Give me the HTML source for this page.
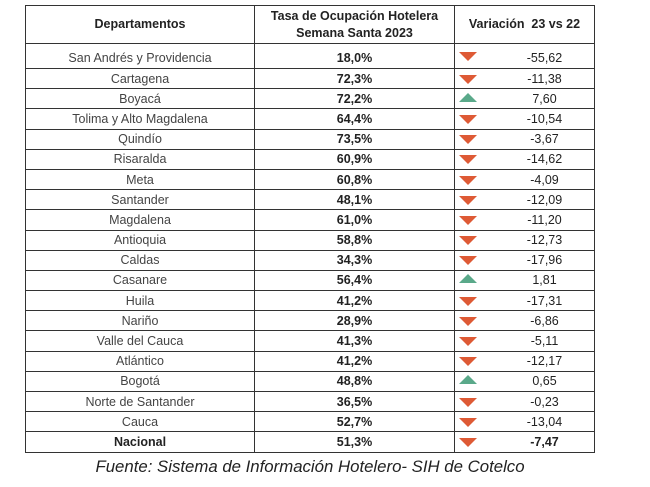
<!DOCTYPE html>
<html><head><meta charset="utf-8"><style>
body{margin:0;width:650px;height:487px;background:#fff;position:relative;overflow:hidden;font-family:"Liberation Sans",sans-serif}
table{position:absolute;left:25px;top:5px;border-collapse:collapse;width:569px;table-layout:fixed}
td,th{border:1.5px solid #333;padding:0;font-size:12.5px;text-align:center;color:#222;vertical-align:middle}
th{font-weight:bold;height:37px;line-height:17px;font-size:12.5px}
td{height:19.2px;line-height:16px}
td.d{color:#444}
td.p{font-weight:bold}
td.v{position:relative;padding-left:40px}
td.v span.t{position:absolute;left:4px;top:50%;margin-top:-4px;width:0;height:0;border-left:9px solid transparent;border-right:9px solid transparent}
.dn{border-top:9px solid #de5a35}
.up{border-bottom:9px solid #5aa98a;margin-top:-6px!important}
tr.first td{height:20px;padding-top:4px}
.cap{position:absolute;left:0;width:620px;top:457px;text-align:center;font-style:italic;font-size:16.8px;color:#222}
</style></head><body>
<table>
<colgroup><col style="width:229px"><col style="width:200px"><col style="width:140px"></colgroup>
<thead><tr>
<th>Departamentos</th>
<th>Tasa de Ocupación Hotelera<br>Semana Santa 2023</th>
<th>Variación&nbsp; 23 vs 22</th></tr></thead>
<tbody id="tb"></tbody></table>
<div class="cap">Fuente: Sistema de Información Hotelero- SIH de Cotelco</div>
<script>
const departments=["San Andrés y Providencia","Cartagena","Boyacá","Tolima y Alto Magdalena","Quindío","Risaralda","Meta","Santander","Magdalena","Antioquia","Caldas","Casanare","Huila","Nariño","Valle del Cauca","Atlántico","Bogotá","Norte de Santander","Cauca","Nacional"];
const rates=["18,0%","72,3%","72,2%","64,4%","73,5%","60,9%","60,8%","48,1%","61,0%","58,8%","34,3%","56,4%","41,2%","28,9%","41,3%","41,2%","48,8%","36,5%","52,7%","51,3%"];
const variations=[-55.62,-11.38,7.60,-10.54,-3.67,-14.62,-4.09,-12.09,-11.20,-12.73,-17.96,1.81,-17.31,-6.86,-5.11,-12.17,0.65,-0.23,-13.04,-7.47];
const tb=document.getElementById('tb');
departments.forEach((d,i)=>{
 const tr=document.createElement('tr');
 
 
 if(i===0)tr.className='first';
 const bold=i===departments.length-1;
 const c1=document.createElement('td');c1.className='d';c1.textContent=d;
 
 
 if(bold){c1.style.fontWeight='bold';c1.style.color='#222';}
 const c2=document.createElement('td');c2.className='p';c2.textContent=rates[i];
 
 
 const c3=document.createElement('td');c3.className='v';
 
 
 const t=document.createElement('span');t.className='t '+(variations[i]<0?'dn':'up');
 
 
 const n=document.createElement('span');
 n.textContent=variations[i].toFixed(2).replace('.',',');
 if(bold)n.style.fontWeight='bold';
 c3.appendChild(t);c3.appendChild(n);
 tr.appendChild(c1);tr.appendChild(c2);tr.appendChild(c3);tb.appendChild(tr);
});
</script>
</body></html>
